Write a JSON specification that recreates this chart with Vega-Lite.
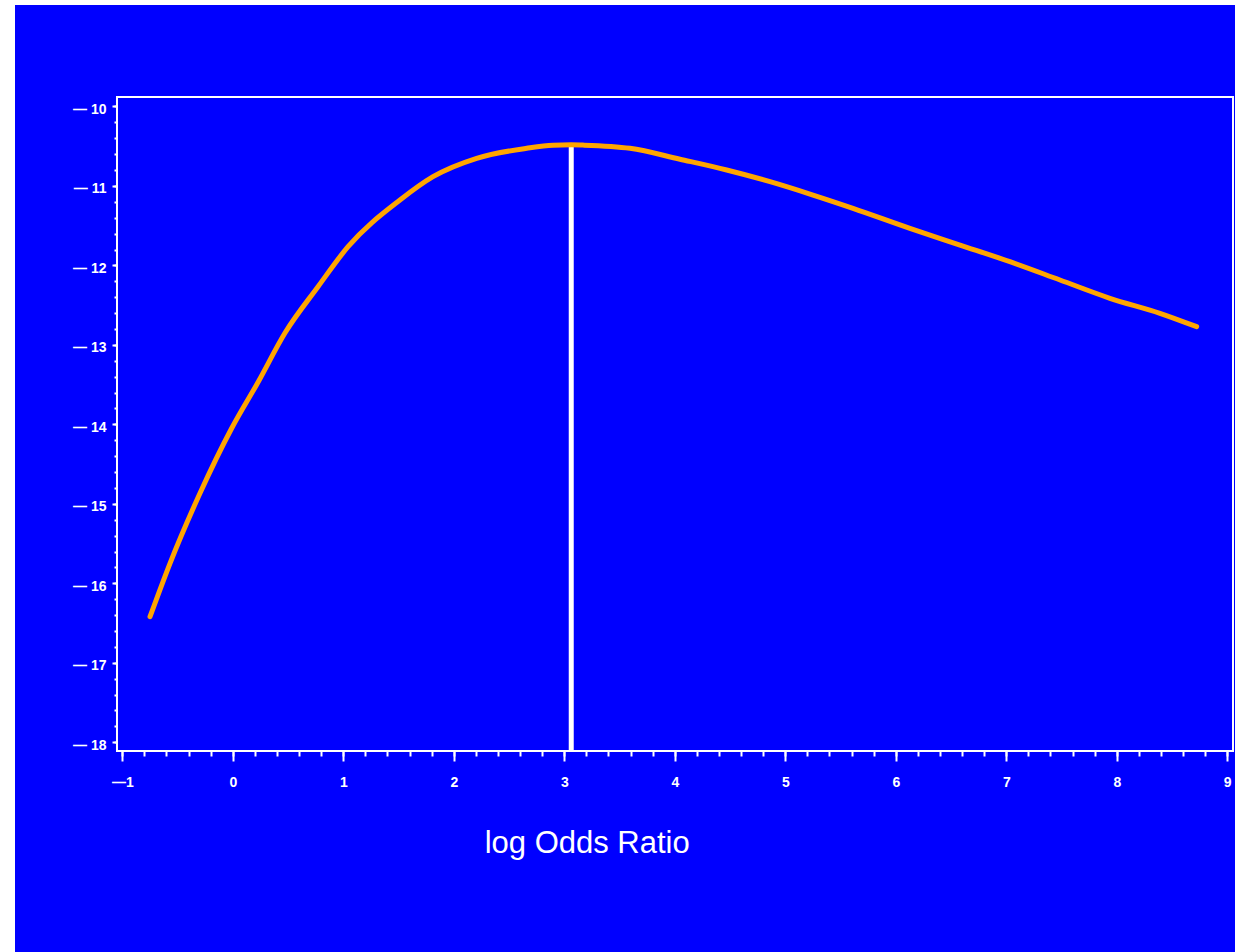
{
  "$schema": "https://vega.github.io/schema/vega-lite/v6.json",
  "width": 1220,
  "height": 947,
  "autosize": {"type": "none"},
  "padding": {"left": 15, "top": 5, "right": 0, "bottom": 0},
  "background": "white",
  "config": {
    "view": {"fill": "#0000FF", "stroke": null},
    "axis": {"grid": false, "domain": false, "tickColor": "white", "labelColor": "white", "titleColor": "white", "labelFont": "Liberation Sans", "titleFont": "Liberation Sans"}
  },
  "resolve": {"axis": {"x": "independent", "y": "independent"}},
  "layer": [
    {
      "data": {"values": [{}]},
      "mark": {"type": "rect", "fill": "transparent", "stroke": "white", "strokeWidth": 2},
      "encoding": {
        "x": {"datum": -1.048, "type": "quantitative",
          "scale": {"domain": [-1.971, 9.07], "nice": false, "zero": false},
          "axis": {"orient": "bottom", "offset": -201, "values": [-1,-0.8,-0.6,-0.4,-0.2,0,0.2,0.4,0.6,0.8,1,1.2,1.4,1.6,1.8,2,2.2,2.4,2.6,2.8,3,3.2,3.4,3.6,3.8,4,4.2,4.4,4.6,4.8,5,5.2,5.4,5.6,5.8,6,6.2,6.4,6.6,6.8,7,7.2,7.4,7.6,7.8,8,8.2,8.4,8.6,8.8,9], "tickSize": 5, "tickWidth": 2, "labels": false, "title": null}},
        "x2": {"datum": 9.052},
        "y": {"datum": -9.88, "type": "quantitative",
          "scale": {"domain": [-20.639, -8.723], "nice": false, "zero": false},
          "axis": {"orient": "left", "offset": -102, "values": [-18,-17.8,-17.6,-17.4,-17.2,-17,-16.8,-16.6,-16.4,-16.2,-16,-15.8,-15.6,-15.4,-15.2,-15,-14.8,-14.6,-14.4,-14.2,-14,-13.8,-13.6,-13.4,-13.2,-13,-12.8,-12.6,-12.4,-12.2,-12,-11.8,-11.6,-11.4,-11.2,-11,-10.8,-10.6,-10.4,-10.2,-10], "tickSize": 3, "tickWidth": 2, "labels": false, "title": null}},
        "y2": {"datum": -18.11}
      }
    },
    {
      "data": {"values": [{"logOR": 3.063, "loglik": -10.51}]},
      "mark": {"type": "rule", "color": "white", "strokeWidth": 5},
      "encoding": {
        "x": {"field": "logOR", "type": "quantitative", "axis": null},
        "y": {"field": "loglik", "type": "quantitative", "axis": null},
        "y2": {"datum": -18.11}
      }
    },
    {
      "data": {"values": [
        {"logOR": -0.749, "loglik": -16.420},
        {"logOR": -0.568, "loglik": -15.748},
        {"logOR": -0.297, "loglik": -14.867},
        {"logOR": -0.010, "loglik": -14.049},
        {"logOR": 0.231, "loglik": -13.463},
        {"logOR": 0.472, "loglik": -12.850},
        {"logOR": 0.771, "loglik": -12.268},
        {"logOR": 1.043, "loglik": -11.764},
        {"logOR": 1.513, "loglik": -11.177},
        {"logOR": 1.812, "loglik": -10.883},
        {"logOR": 2.207, "loglik": -10.652},
        {"logOR": 2.660, "loglik": -10.526},
        {"logOR": 2.898, "loglik": -10.487},
        {"logOR": 3.063, "loglik": -10.482},
        {"logOR": 3.169, "loglik": -10.486},
        {"logOR": 3.595, "loglik": -10.526},
        {"logOR": 4.047, "loglik": -10.664},
        {"logOR": 4.470, "loglik": -10.799},
        {"logOR": 4.862, "loglik": -10.946},
        {"logOR": 5.251, "loglik": -11.114},
        {"logOR": 5.613, "loglik": -11.281},
        {"logOR": 6.128, "loglik": -11.533},
        {"logOR": 6.581, "loglik": -11.743},
        {"logOR": 7.033, "loglik": -11.953},
        {"logOR": 7.486, "loglik": -12.183},
        {"logOR": 7.938, "loglik": -12.413},
        {"logOR": 8.391, "loglik": -12.602},
        {"logOR": 8.723, "loglik": -12.771}
      ]},
      "mark": {"type": "line", "color": "#FFA500", "strokeWidth": 5, "interpolate": "monotone", "strokeCap": "round"},
      "encoding": {
        "x": {"field": "logOR", "type": "quantitative",
          "axis": {"orient": "bottom", "offset": -201, "values": [-1,0,1,2,3,4,5,6,7,8,9], "tickSize": 10, "tickWidth": 2,
            "labelExpr": "datum.value < 0 ? '—' + abs(datum.value) : '' + datum.value",
            "labelFontSize": 14, "labelFontWeight": "bold", "labelPadding": 14, "labelFlush": false,
            "title": "log Odds Ratio", "titleFontSize": 31, "titleFontWeight": "normal", "titleX": 571.7, "titleY": 101, "titleAlign": "center", "titleBaseline": "alphabetic"}},
        "y": {"field": "loglik", "type": "quantitative",
          "axis": {"orient": "left", "offset": -102, "values": [-18,-17,-16,-15,-14,-13,-12,-11,-10], "tickSize": 5, "tickWidth": 2,
            "labelExpr": "datum.value < 0 ? '— ' + abs(datum.value) : '' + datum.value",
            "labelFontSize": 14, "labelFontWeight": "bold", "labelPadding": 6, "labelOffset": 3, "labelFlush": false, "title": null}}
      }
    }
  ]
}
